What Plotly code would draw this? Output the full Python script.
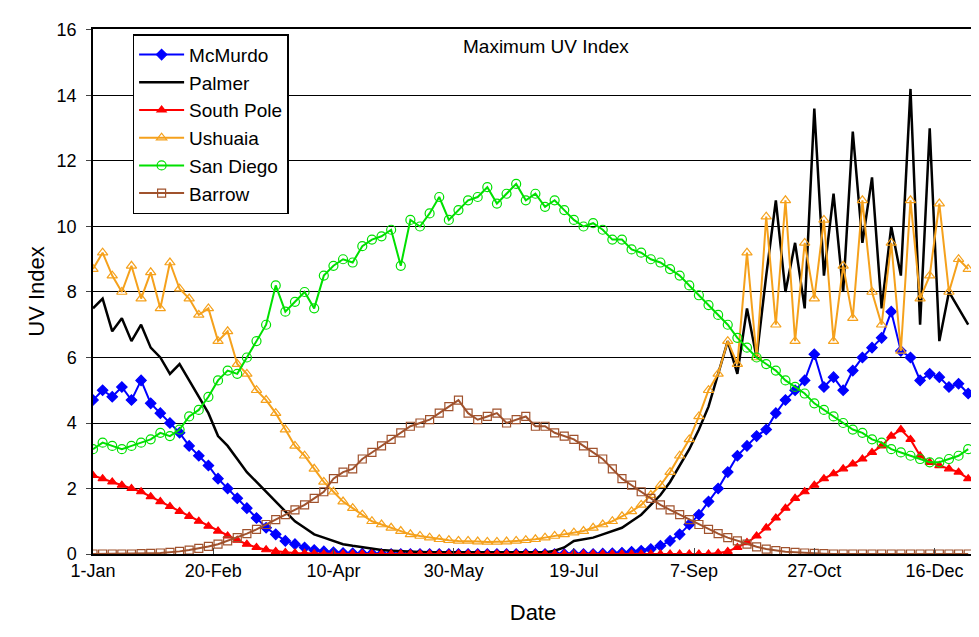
import plotly.graph_objects as go

days = list(range(0, 365, 4))
tick_days = [0, 50, 100, 150, 200, 250, 300, 350]
tick_labels = ["1-Jan", "20-Feb", "10-Apr", "30-May", "19-Jul", "7-Sep", "27-Oct", "16-Dec"]

mcmurdo = [4.7,5.0,4.8,5.1,4.7,5.3,4.6,4.3,4.0,3.7,
           3.3,3.0,2.7,2.3,2.0,1.7,1.4,1.1,0.8,0.6,
           0.4,0.3,0.2,0.12,0.08,0.05,0.03,0.02,0.01,0.01,
           0,0,0,0,0,0,0,0,0,0,
           0,0,0,0,0,0,0,0,0,0,
           0,0,0,0.01,0.02,0.04,0.07,0.1,0.15,0.25,
           0.4,0.6,0.9,1.2,1.6,2.0,2.5,3.0,3.3,3.6,
           3.8,4.3,4.7,5.0,5.3,6.1,5.1,5.4,5.0,5.6,
           6.0,6.3,6.6,7.4,6.2,6.0,5.3,5.5,5.4,5.1,
           5.2,4.9]
palmer = [7.5,7.8,6.8,7.2,6.5,7.0,6.3,6.0,5.5,5.8,
          5.3,4.8,4.3,3.6,3.3,2.9,2.5,2.2,1.9,1.6,
          1.3,1.0,0.8,0.6,0.5,0.4,0.3,0.25,0.2,0.15,
          0.12,0.1,0.08,0.07,0.06,0.05,0.05,0.05,0.05,0.05,
          0.05,0.05,0.05,0.05,0.05,0.05,0.05,0.05,0.1,0.2,
          0.4,0.45,0.5,0.6,0.7,0.8,1.0,1.2,1.5,1.8,
          2.2,2.7,3.2,3.8,4.5,5.5,6.5,5.5,7.5,6.0,
          8.5,10.8,8.0,9.5,7.5,13.6,8.5,11.0,8.0,12.9,
          9.5,11.5,7.5,10.0,8.5,14.2,7.0,13.0,6.5,8.0,
          7.5,7.0]
south_pole = [2.4,2.3,2.2,2.1,2.0,1.9,1.75,1.6,1.45,1.3,
              1.15,1.0,0.85,0.7,0.55,0.42,0.3,0.2,0.13,0.08,
              0.05,0.03,0.02,0.01,0,0,0,0,0,0,
              0,0,0,0,0,0,0,0,0,0,
              0,0,0,0,0,0,0,0,0,0,
              0,0,0,0,0,0,0,0,0,0,
              0,0,0,0,0,0.03,0.08,0.2,0.35,0.55,
              0.8,1.1,1.4,1.7,1.9,2.1,2.3,2.45,2.6,2.75,
              2.9,3.1,3.3,3.6,3.8,3.5,3.0,2.8,2.7,2.6,
              2.5,2.3]
ushuaia = [8.7,9.2,8.5,8.0,8.8,7.8,8.6,7.5,8.9,8.1,
           7.8,7.3,7.5,6.5,6.8,5.8,5.5,5.0,4.7,4.3,
           3.8,3.3,3.0,2.6,2.2,1.9,1.6,1.4,1.2,1.0,
           0.9,0.8,0.7,0.6,0.55,0.5,0.45,0.42,0.4,0.4,
           0.38,0.37,0.37,0.38,0.4,0.42,0.45,0.5,0.55,0.6,
           0.65,0.7,0.8,0.9,1.0,1.15,1.3,1.5,1.8,2.1,
           2.5,3.0,3.5,4.2,5.0,5.5,6.5,5.8,9.2,6.0,
           10.3,7.0,10.8,6.5,9.5,7.8,10.2,6.5,8.8,7.2,
           10.8,8.0,7.0,9.5,6.2,10.8,7.8,8.5,10.7,8.0,
           9.0,8.7]
san_diego = [3.2,3.4,3.3,3.2,3.3,3.4,3.5,3.7,3.6,3.8,
             4.2,4.4,4.8,5.3,5.6,5.5,6.0,6.5,7.0,8.2,
             7.4,7.7,8.0,7.5,8.5,8.8,9.0,8.9,9.4,9.6,
             9.7,9.9,8.8,10.2,10.0,10.4,10.9,10.2,10.5,10.8,
             10.9,11.2,10.7,11.0,11.3,10.8,11.0,10.6,10.8,10.5,
             10.2,10.0,10.1,9.9,9.6,9.6,9.3,9.2,9.0,8.9,
             8.7,8.5,8.2,7.9,7.6,7.3,7.0,6.6,6.3,6.0,
             5.8,5.6,5.3,5.1,4.9,4.6,4.4,4.2,4.0,3.8,
             3.7,3.5,3.4,3.2,3.1,3.0,2.9,2.8,2.8,2.9,
             3.0,3.2]
barrow = [0,0,0,0,0,0.01,0.02,0.03,0.05,0.08,
          0.12,0.17,0.23,0.3,0.4,0.5,0.62,0.75,0.9,1.05,
          1.2,1.35,1.5,1.7,1.9,2.3,2.5,2.6,2.9,3.1,
          3.3,3.5,3.7,3.9,4.0,4.1,4.3,4.5,4.7,4.3,
          4.1,4.2,4.3,4.0,4.1,4.2,3.9,3.9,3.7,3.6,
          3.5,3.3,3.1,2.9,2.6,2.3,2.1,1.9,1.7,1.5,
          1.35,1.2,1.05,0.9,0.75,0.62,0.5,0.4,0.3,0.22,
          0.15,0.1,0.07,0.05,0.03,0.02,0.01,0,0,0,
          0,0,0,0,0,0,0,0,0,0,
          0,0]

series = [
    ("McMurdo", mcmurdo, "#0000FF", "diamond", 8),
    ("Palmer", palmer, "#000000", None, 0),
    ("South Pole", south_pole, "#FF0000", "triangle-up", 8),
    ("Ushuaia", ushuaia, "#F5A11C", "triangle-up-open", 9),
    ("San Diego", san_diego, "#00E000", "circle-open", 9),
    ("Barrow", barrow, "#A0522D", "square-open", 8),
]

fig = go.Figure()
for name, vals, col, sym, sz in series:
    if sym:
        fig.add_trace(go.Scatter(x=days, y=vals, name=name, mode="lines+markers",
                                 line=dict(color=col, width=2),
                                 marker=dict(symbol=sym, size=sz, color=col,
                                             line=dict(color=col, width=1.2))))
    else:
        fig.add_trace(go.Scatter(x=days, y=vals, name=name, mode="lines",
                                 line=dict(color=col, width=2.5)))

fig.update_layout(
    width=979, height=637,
    margin=dict(l=85, r=12, t=12, b=91),
    paper_bgcolor="white", plot_bgcolor="white",
    font=dict(family="Liberation Sans, Arial", size=18, color="black"),
    showlegend=True,
    legend=dict(x=0.045, y=0.99, xanchor="left", yanchor="top",
                bordercolor="black", borderwidth=1.5, bgcolor="white",
                font=dict(size=19), tracegroupgap=0, itemwidth=45),
    annotations=[dict(text="Maximum UV Index", x=0.515, y=0.99, xref="paper", yref="paper",
                      showarrow=False, font=dict(size=19))],
)
fig.update_xaxes(range=[0, 366], tickvals=tick_days, ticktext=tick_labels,
                 showgrid=False, showline=True, linecolor="black", linewidth=1.5, mirror=True,
                 ticks="inside", ticklen=6, zeroline=False,
                 title=dict(text="Date", font=dict(size=22), standoff=24))
fig.update_yaxes(range=[0, 16.03], tickvals=[0, 2, 4, 6, 8, 10, 12, 14, 16],
                 showgrid=True, gridcolor="black", gridwidth=1,
                 showline=True, linecolor="black", linewidth=1.5, mirror=True,
                 ticks="outside", ticklen=5, zeroline=False, ticklabelstandoff=6,
                 title=dict(text="UV Index", font=dict(size=22), standoff=6))
fig.write_html("out.html")
